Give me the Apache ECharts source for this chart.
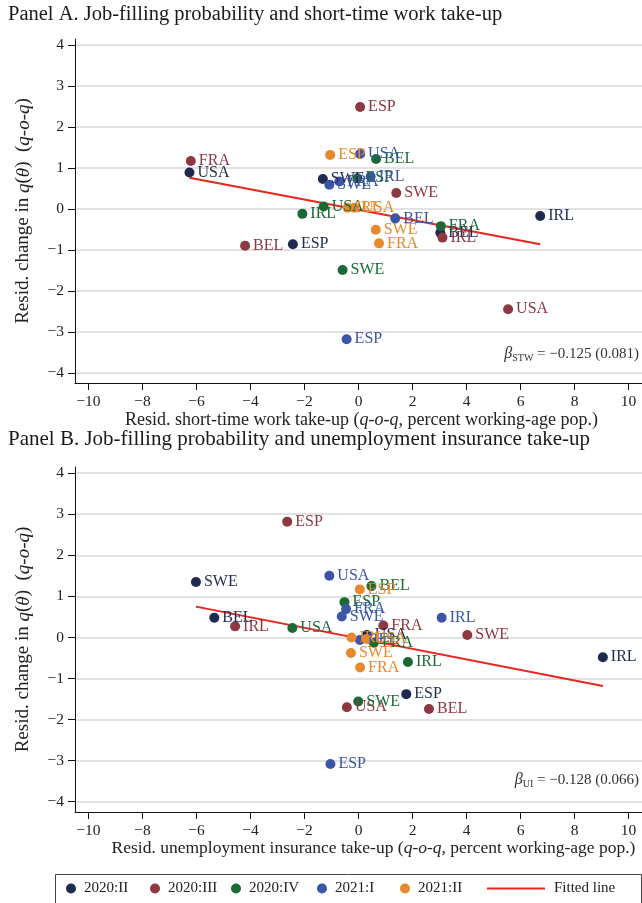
<!DOCTYPE html>
<html><head><meta charset="utf-8">
<script src="https://cdn.jsdelivr.net/npm/echarts@6/dist/echarts.min.js"></script>
<style>html,body{margin:0;padding:0;background:#fff}#c{width:642px;height:903px}</style>
</head><body><div id="c"></div>
<script>
// ---- tick labels ----
const xTicks = [-10, -8, -6, -4, -2, 0, 2, 4, 6, 8, 10];
const yTicks = [-4, -3, -2, -1, 0, 1, 2, 3, 4];
const quarters = ['2020:II', '2020:III', '2020:IV', '2021:I', '2021:II'];

// ---- Panel A: [country, resid. short-time work take-up, resid. change in q(theta)] ----
const stw_2020_II = [['USA', -6.26, 0.89], ['SWE', -1.32, 0.73], ['ESP', -2.43, -0.86], ['BEL', 3.03, -0.58], ['IRL', 6.73, -0.17]];
const stw_2020_III = [['FRA', -6.21, 1.17], ['ESP', 0.06, 2.49], ['SWE', 1.40, 0.39], ['BEL', -4.20, -0.90], ['IRL', 3.11, -0.70], ['USA', 5.54, -2.45]];
const stw_2020_IV = [['BEL', 0.65, 1.22], ['ESP', -0.04, 0.75], ['USA', -1.29, 0.06], ['IRL', -2.08, -0.12], ['FRA', 3.05, -0.42], ['SWE', -0.59, -1.49]];
const stw_2021_I = [['USA', 0.06, 1.34], ['SWE', -1.08, 0.59], ['FRA', -0.71, 0.67], ['IRL', 0.45, 0.79], ['BEL', 1.36, -0.23], ['ESP', -0.44, -3.18]];
const stw_2021_II = [['ESP', -1.05, 1.32], ['IRL', -0.40, 0.03], ['USA', -0.16, 0.03], ['SWE', 0.64, -0.51], ['FRA', 0.76, -0.84]];
const fitA = [[-6.26, 0.76], [6.73, -0.86]];
const betaA = '\u2212' + '0.125 (0.081)';

// ---- Panel B: [country, resid. UI take-up, resid. change in q(theta)] ----
const ui_2020_II = [['SWE', -6.02, 1.35], ['BEL', -5.34, 0.48], ['IRL', 9.05, -0.48], ['ESP', 1.77, -1.38], ['USA', 0.31, 0.06]];
const ui_2020_III = [['ESP', -2.64, 2.82], ['IRL', -4.57, 0.27], ['FRA', 0.92, 0.29], ['SWE', 4.03, 0.06], ['USA', -0.43, -1.70], ['BEL', 2.61, -1.74]];
const ui_2020_IV = [['BEL', 0.48, 1.25], ['ESP', -0.52, 0.86], ['USA', -2.45, 0.23], ['FRA', 0.57, -0.13], ['IRL', 1.83, -0.60], ['SWE', -0.01, -1.56]];
const ui_2021_I = [['USA', -1.08, 1.50], ['FRA', -0.46, 0.69], ['SWE', -0.62, 0.51], ['IRL', 3.08, 0.48], ['BEL', 0.05, -0.06], ['ESP', -1.04, -3.08]];
const ui_2021_II = [['ESP', 0.05, 1.17], ['IRL', -0.26, 0.00], ['USA', 0.30, -0.04], ['SWE', -0.28, -0.38], ['FRA', 0.06, -0.73]];
const fitB = [[-6.02, 0.75], [9.05, -1.18]];
const betaB = '\u2212' + '0.128 (0.066)';

const colors = ['#1f2a4f', '#8e3842', '#1b6a36', '#3c55a6', '#e8892e'];
const lineColor = '#e8251f';
const FONT = '"Liberation Serif", "DejaVu Serif", serif';
const TXT = '#222';

const panelA = [stw_2020_II, stw_2020_III, stw_2020_IV, stw_2021_I, stw_2021_II];
const panelB = [ui_2020_II, ui_2020_III, ui_2020_IV, ui_2021_I, ui_2021_II];

const minus = v => String(v).replace('-', '\u2212');

function xAxisDef(gridIndex, nameRich, shift, fs) {
  return {
    type: 'value', gridIndex, min: -10.5, max: 10.5,
    axisLine: { show: true, onZero: false, lineStyle: { color: '#111', width: 1 } },
    axisTick: { show: true, customValues: xTicks, length: 7, lineStyle: { color: '#111' } },
    axisLabel: { customValues: xTicks, formatter: minus, fontSize: 15.5, fontFamily: FONT, color: TXT, margin: 11 },
    splitLine: { show: false },
    name: nameRich, nameLocation: 'middle', nameGap: 25,
    nameTextStyle: {
      fontSize: fs, fontFamily: FONT, color: TXT, padding: [0, 0, 0, shift],
      rich: { n: { fontSize: fs, fontFamily: FONT, color: TXT }, i: { fontSize: fs, fontFamily: FONT, color: TXT, fontStyle: 'italic' } }
    }
  };
}
function yAxisDef(gridIndex) {
  return {
    type: 'value', gridIndex, min: -4.25, max: 4.15,
    axisLine: { show: true, onZero: false, lineStyle: { color: '#111', width: 1 } },
    axisTick: { show: true, customValues: yTicks, length: 7, lineStyle: { color: '#111' } },
    axisLabel: { customValues: yTicks, formatter: minus, fontSize: 15.5, fontFamily: FONT, color: TXT, margin: 11 },
    splitLine: { show: true, lineStyle: { color: '#d9d9d9', width: 1.5 } },
    name: '{n|Resid. change in }{i|q}{n|(}{i|θ}{n|)  (}{i|q-o-q}{n|)}',
    nameLocation: 'middle', nameGap: 42,
    nameTextStyle: {
      fontSize: 19, fontFamily: FONT, color: TXT,
      rich: { n: { fontSize: 19, fontFamily: FONT, color: TXT }, i: { fontSize: 19, fontFamily: FONT, color: TXT, fontStyle: 'italic' } }
    }
  };
}

const series = [];
function addPanel(sets, fit, idx) {
  sets.forEach((arr, k) => {
    series.push({
      type: 'scatter', name: quarters[k], xAxisIndex: idx, yAxisIndex: idx,
      symbol: 'circle', symbolSize: 10,
      itemStyle: { color: colors[k], opacity: 1 },
      label: { show: true, position: 'right', distance: 3, formatter: '{b}', fontSize: 16, fontFamily: FONT, color: colors[k] },
      emphasis: { disabled: true },
      data: arr.map(d => ({ name: d[0], value: [d[1], d[2]] }))
    });
  });
  series.push({
    type: 'line', name: 'Fitted line', xAxisIndex: idx, yAxisIndex: idx,
    symbol: 'none', lineStyle: { color: lineColor, width: 2 }, itemStyle: { color: lineColor },
    data: fit, z: 1
  });
}
addPanel(panelA, fitA, 0);
addPanel(panelB, fitB, 1);

const betaRich = {
  b: { fontSize: 16, fontFamily: FONT, fontStyle: 'italic', fill: '#333' },
  s: { fontSize: 10, fontFamily: FONT, fill: '#333', padding: [9, 0, 0, 0] },
  t: { fontSize: 15, fontFamily: FONT, fill: '#333' }
};

const legendText = { fontSize: 15, fontFamily: FONT, color: TXT, padding: [0, 0, 0, 3] };
const legendSlots = [66, 150, 231, 317, 400];
const legends = quarters.map((q, k) => ({
  data: [q], left: legendSlots[k], top: 881, padding: 0, itemWidth: 10, itemHeight: 10,
  icon: 'circle', selectedMode: false, textStyle: legendText
}));
legends.push({ data: [{ name: 'Fitted line', icon: 'rect' }], left: 487, top: 881, padding: 0, itemWidth: 58, itemHeight: 2,
  selectedMode: false, textStyle: Object.assign({}, legendText, { padding: [0, 0, 0, 4] }) });

const option = {
  animation: false,
  backgroundColor: '#fff',
  title: [
    { text: 'Panel A. Job-filling probability and short-time work take-up', left: 8, top: 4, padding: 0,
      textStyle: { fontSize: 20.5, fontWeight: 'normal', fontFamily: FONT, color: '#1a1a1a' } },
    { text: 'Panel B. Job-filling probability and unemployment insurance take-up', left: 8, top: 429, padding: 0,
      textStyle: { fontSize: 21, fontWeight: 'normal', fontFamily: FONT, color: '#1a1a1a' } }
  ],
  grid: [
    { left: 75, top: 39, width: 573, height: 344, containLabel: false },
    { left: 75, top: 467, width: 573, height: 345, containLabel: false }
  ],
  xAxis: [
    xAxisDef(0, '{n|Resid. short-time work take-up (}{i|q-o-q}{n|, percent working-age pop.)}', 6, 18),
    xAxisDef(1, '{n|Resid. unemployment insurance take-up (}{i|q-o-q}{n|, percent working-age pop.)}', 30, 17.5)
  ],
  yAxis: [yAxisDef(0), yAxisDef(1)],
  legend: legends,
  graphic: [
    { type: 'rect', left: 53, top: 872, shape: { width: 586, height: 40 },
      style: { fill: 'none', stroke: '#444', lineWidth: 1 }, silent: true },
    { type: 'text', right: 3, top: 346, style: { text: '{b|β}{s|STW}{t| = ' + betaA + '}', rich: betaRich } },
    { type: 'text', right: 3, top: 772, style: { text: '{b|β}{s|UI}{t| = ' + betaB + '}', rich: betaRich } }
  ],
  series
};

const chart = echarts.init(document.getElementById('c'), null, { renderer: 'canvas' });
chart.setOption(option);
</script>
</body></html>
